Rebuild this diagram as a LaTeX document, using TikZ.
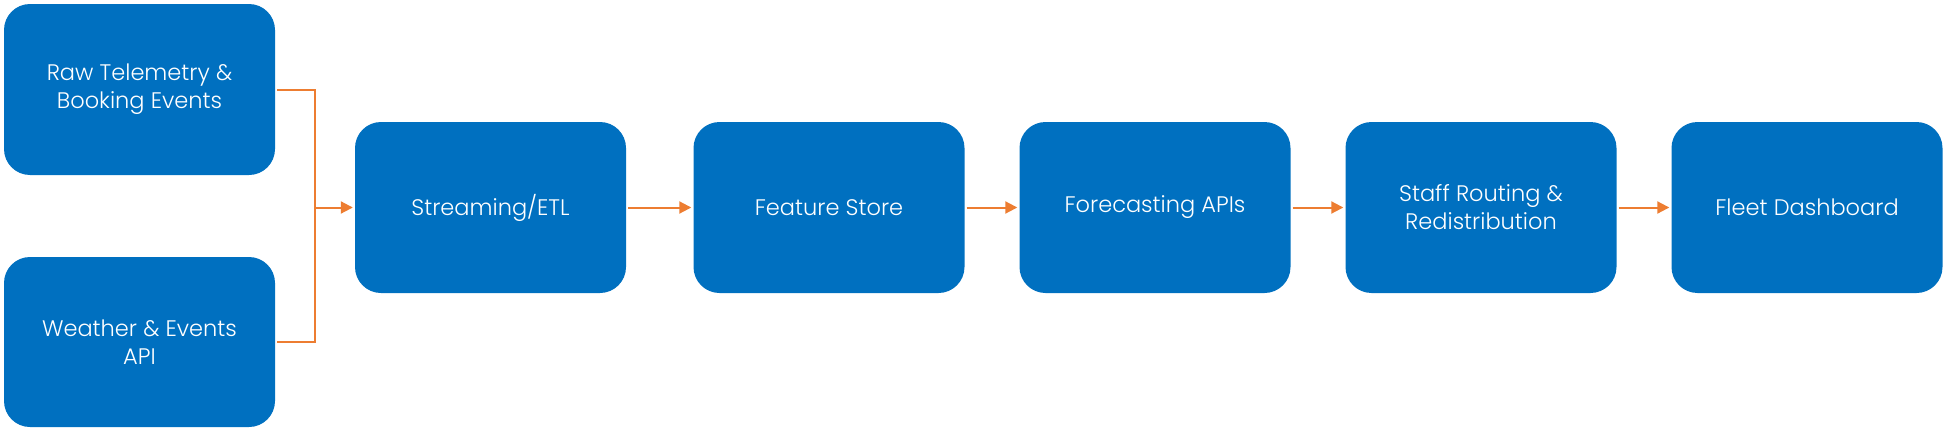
\documentclass[tikz,border=0pt]{standalone}
\usepackage{fontspec}
\setmainfont{Poppins Light}
\usetikzlibrary{arrows.meta}
\definecolor{boxblue}{HTML}{0070C0}
\definecolor{arroworange}{HTML}{ED7D31}
\tikzset{
  stage/.style={draw=none, fill=boxblue, rounded corners=26pt, minimum width=271pt, minimum height=171pt,
    text=white, align=center, inner sep=0pt, font=\fontsize{22.5}{28}\selectfont},
  link/.style={draw=arroworange, line width=2pt},
  flow/.style={link, -{Triangle[length=12pt,width=12pt]}, shorten >=2pt, shorten <=2pt}
}
\begin{document}
\begin{tikzpicture}[x=1pt,y=-1pt]
\useasboundingbox (0,0) rectangle (1947,431);
\node[stage] (raw) at (139.5,89.5) {Raw Telemetry \&\\Booking Events};
\node[stage, minimum height=170pt] (weather) at (139.5,342) {Weather \& Events\\API};
\node[stage] (stream) at (490.5,207.5) {Streaming/ETL};
\node[stage] (feature) at (829,207.5) {Feature Store};
\node[stage] (forecast) at (1155,207.5) {Forecasting APIs};
\node[stage] (staff) at (1481,207.5) {Staff Routing \&\\Redistribution};
\node[stage] (fleet) at (1807,207.5) {Fleet Dashboard};
\coordinate (j) at (315,207.5);
\draw[link, shorten <=2pt] (raw.east) -| (j);
\draw[link, shorten <=2pt] (weather.east) -| (j);
\draw[flow, shorten <=0pt] (j) -- (stream.west);
\draw[flow] (stream) -- (feature);
\draw[flow] (feature) -- (forecast);
\draw[flow] (forecast) -- (staff);
\draw[flow] (staff) -- (fleet);
\end{tikzpicture}
\end{document}
